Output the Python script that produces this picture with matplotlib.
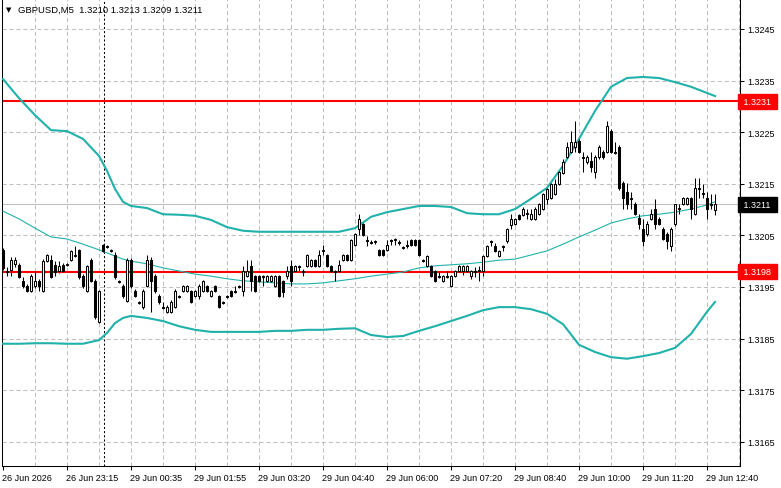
import matplotlib
matplotlib.use("Agg")
import matplotlib.pyplot as plt
import matplotlib.transforms as mtransforms
import numpy as np

plt.rcParams['font.family'] = ['Liberation Sans', 'DejaVu Sans']
plt.rcParams['lines.scale_dashes'] = False

symbol = "GBPUSD,M5"
last_ohlc = [1.3210, 1.3213, 1.3209, 1.3211]
levels = [1.3231, 1.3198]

# M5 candles, 26 Jun 21:55 -> 29 Jun 12:50
opens = [
    1.32022, 1.31981, 1.31983, 1.31995, 1.31993, 1.31962, 1.31952, 1.31942, 1.31952, 1.31962,
    1.31942, 1.32000, 1.32002, 1.31993, 1.31981, 1.31993, 1.31993, 1.32002, 1.32010, 1.32022,
    1.31971, 1.31942, 1.32002, 1.31962, 1.31882, 1.32031, 1.32029, 1.32022, 1.32012, 1.31962,
    1.31952, 1.31923, 1.32002, 1.31942, 1.31921, 1.31911, 1.31952, 1.32002, 1.31971, 1.31933,
    1.31911, 1.31902, 1.31902, 1.31911, 1.31933, 1.31942, 1.31942, 1.31942, 1.31933, 1.31933,
    1.31942, 1.31952, 1.31933, 1.31952, 1.31933, 1.31921, 1.31933, 1.31942, 1.31942, 1.31952,
    1.31942, 1.31971, 1.31991, 1.31971, 1.31971, 1.31971, 1.31962, 1.31962, 1.31952, 1.31971,
    1.31962, 1.31971, 1.31991, 1.31981, 1.31991, 1.31981, 1.31991, 1.31991, 1.32002, 1.31991,
    1.32022, 1.32012, 1.31991, 1.31981, 1.31981, 1.32002, 1.32012, 1.32002, 1.32031, 1.32062,
    1.32072, 1.32041, 1.32037, 1.32037, 1.32022, 1.32022, 1.32022, 1.32041, 1.32041, 1.32037,
    1.32028, 1.32031, 1.32041, 1.32041, 1.32041, 1.32002, 1.31991, 1.31991, 1.31981, 1.31971,
    1.31962, 1.31971, 1.31952, 1.31971, 1.31981, 1.31981, 1.31981, 1.31971, 1.31981, 1.31981,
    1.31981, 1.32010, 1.32039, 1.32029, 1.32010, 1.32029, 1.32039, 1.32070, 1.32072, 1.32090,
    1.32090, 1.32091, 1.32082, 1.32082, 1.32091, 1.32101, 1.32121, 1.32122, 1.32130, 1.32150,
    1.32171, 1.32202, 1.32212, 1.32221, 1.32233, 1.32202, 1.32192, 1.32194, 1.32173, 1.32202,
    1.32212, 1.32212, 1.32252, 1.32212, 1.32221, 1.32152, 1.32134, 1.32122, 1.32111, 1.32084,
    1.32062, 1.32053, 1.32082, 1.32101, 1.32082, 1.32062, 1.32053, 1.32029, 1.32072, 1.32101,
    1.32111, 1.32111, 1.32122, 1.32091, 1.32142, 1.32132, 1.32122, 1.32111, 1.32100,
]
highs = [
    1.32026, 1.31989, 1.32008, 1.32008, 1.31997, 1.31969, 1.31956, 1.31975, 1.31981, 1.31966,
    1.32004, 1.32014, 1.32012, 1.32000, 1.32000, 1.31997, 1.31997, 1.32022, 1.32029, 1.32024,
    1.31975, 1.31993, 1.32006, 1.31966, 1.31944, 1.32033, 1.32031, 1.32024, 1.32018, 1.31964,
    1.31956, 1.32006, 1.32006, 1.31946, 1.31923, 1.31946, 1.32012, 1.32008, 1.31975, 1.31936,
    1.31921, 1.31915, 1.31925, 1.31946, 1.31935, 1.31954, 1.31954, 1.31944, 1.31944, 1.31956,
    1.31964, 1.31954, 1.31944, 1.31954, 1.31935, 1.31923, 1.31935, 1.31944, 1.31952, 1.31954,
    1.31991, 1.32002, 1.32002, 1.31973, 1.31973, 1.31973, 1.31973, 1.31973, 1.31973, 1.31973,
    1.31964, 1.31991, 1.32002, 1.31993, 1.31993, 1.31985, 1.32014, 1.32004, 1.32004, 1.32022,
    1.32031, 1.32014, 1.31993, 1.31983, 1.32002, 1.32014, 1.32014, 1.32043, 1.32055, 1.32091,
    1.32074, 1.32049, 1.32041, 1.32041, 1.32024, 1.32024, 1.32041, 1.32043, 1.32045, 1.32041,
    1.32029, 1.32041, 1.32043, 1.32043, 1.32043, 1.32004, 1.32012, 1.31993, 1.31983, 1.31981,
    1.31973, 1.31981, 1.31973, 1.31983, 1.31993, 1.31993, 1.31993, 1.31983, 1.31989, 1.31991,
    1.32012, 1.32031, 1.32041, 1.32035, 1.32022, 1.32031, 1.32064, 1.32091, 1.32084, 1.32091,
    1.32105, 1.32101, 1.32101, 1.32105, 1.32113, 1.32132, 1.32142, 1.32152, 1.32159, 1.32175,
    1.32198, 1.32231, 1.32252, 1.32272, 1.32237, 1.32212, 1.32206, 1.32212, 1.32206, 1.32225,
    1.32216, 1.32272, 1.32256, 1.32231, 1.32225, 1.32155, 1.32152, 1.32134, 1.32115, 1.32091,
    1.32082, 1.32078, 1.32101, 1.32121, 1.32086, 1.32066, 1.32057, 1.32066, 1.32111, 1.32111,
    1.32124, 1.32124, 1.32124, 1.32161, 1.32161, 1.32150, 1.32134, 1.32130, 1.32130,
]
lows = [
    1.31983, 1.31971, 1.31971, 1.31989, 1.31967, 1.31948, 1.31940, 1.31940, 1.31948, 1.31942,
    1.31940, 1.31998, 1.31967, 1.31971, 1.31977, 1.31979, 1.31991, 1.32000, 1.32008, 1.31966,
    1.31948, 1.31940, 1.31960, 1.31888, 1.31880, 1.32018, 1.32026, 1.32018, 1.31966, 1.31958,
    1.31929, 1.31921, 1.31948, 1.31931, 1.31917, 1.31907, 1.31950, 1.31902, 1.31938, 1.31917,
    1.31907, 1.31900, 1.31900, 1.31909, 1.31929, 1.31940, 1.31940, 1.31919, 1.31931, 1.31927,
    1.31940, 1.31940, 1.31931, 1.31940, 1.31909, 1.31917, 1.31929, 1.31931, 1.31938, 1.31948,
    1.31933, 1.31969, 1.31942, 1.31940, 1.31960, 1.31952, 1.31960, 1.31960, 1.31950, 1.31931,
    1.31931, 1.31966, 1.31952, 1.31979, 1.31981, 1.31971, 1.31989, 1.31989, 1.31989, 1.31989,
    1.32012, 1.31989, 1.31979, 1.31962, 1.31979, 1.32000, 1.32000, 1.32000, 1.32029, 1.32051,
    1.32049, 1.32029, 1.32033, 1.32033, 1.32010, 1.32010, 1.32020, 1.32031, 1.32031, 1.32031,
    1.32024, 1.32026, 1.32029, 1.32029, 1.32010, 1.31998, 1.31989, 1.31969, 1.31960, 1.31967,
    1.31960, 1.31967, 1.31950, 1.31969, 1.31979, 1.31973, 1.31979, 1.31966, 1.31969, 1.31962,
    1.31971, 1.32008, 1.32029, 1.32018, 1.32008, 1.32020, 1.32035, 1.32062, 1.32070, 1.32080,
    1.32088, 1.32082, 1.32080, 1.32080, 1.32090, 1.32099, 1.32111, 1.32121, 1.32128, 1.32148,
    1.32169, 1.32200, 1.32210, 1.32212, 1.32210, 1.32173, 1.32188, 1.32173, 1.32161, 1.32198,
    1.32198, 1.32210, 1.32210, 1.32208, 1.32138, 1.32101, 1.32101, 1.32101, 1.32090, 1.32062,
    1.32029, 1.32049, 1.32080, 1.32062, 1.32070, 1.32041, 1.32024, 1.32020, 1.32068, 1.32091,
    1.32109, 1.32109, 1.32082, 1.32090, 1.32122, 1.32122, 1.32082, 1.32101, 1.32090,
]
closes = [
    1.31987, 1.31979, 1.32002, 1.32002, 1.31969, 1.31952, 1.31942, 1.31971, 1.31962, 1.31952,
    1.32000, 1.32012, 1.31969, 1.31979, 1.31991, 1.31981, 1.31995, 1.32020, 1.32012, 1.31969,
    1.31952, 1.31991, 1.31962, 1.31892, 1.31942, 1.32020, 1.32028, 1.32020, 1.31969, 1.31960,
    1.31933, 1.32002, 1.31952, 1.31933, 1.31919, 1.31942, 1.32002, 1.31962, 1.31942, 1.31921,
    1.31909, 1.31911, 1.31921, 1.31942, 1.31931, 1.31952, 1.31952, 1.31921, 1.31942, 1.31952,
    1.31962, 1.31942, 1.31942, 1.31942, 1.31911, 1.31919, 1.31931, 1.31933, 1.31940, 1.31950,
    1.31981, 1.31981, 1.31962, 1.31942, 1.31962, 1.31969, 1.31971, 1.31971, 1.31971, 1.31933,
    1.31940, 1.31981, 1.31962, 1.31991, 1.31989, 1.31979, 1.32012, 1.32002, 1.31991, 1.32012,
    1.32020, 1.31991, 1.31981, 1.31979, 1.31993, 1.32012, 1.32002, 1.32041, 1.32053, 1.32082,
    1.32051, 1.32039, 1.32035, 1.32039, 1.32012, 1.32012, 1.32031, 1.32039, 1.32043, 1.32035,
    1.32026, 1.32029, 1.32031, 1.32031, 1.32012, 1.32000, 1.32010, 1.31971, 1.31962, 1.31969,
    1.31971, 1.31969, 1.31971, 1.31981, 1.31991, 1.31991, 1.31991, 1.31981, 1.31979, 1.31983,
    1.32010, 1.32029, 1.32037, 1.32020, 1.32020, 1.32028, 1.32062, 1.32082, 1.32082, 1.32082,
    1.32101, 1.32093, 1.32091, 1.32101, 1.32111, 1.32130, 1.32140, 1.32150, 1.32150, 1.32173,
    1.32192, 1.32221, 1.32231, 1.32231, 1.32212, 1.32200, 1.32202, 1.32183, 1.32202, 1.32221,
    1.32202, 1.32262, 1.32212, 1.32210, 1.32142, 1.32122, 1.32111, 1.32121, 1.32091, 1.32072,
    1.32039, 1.32072, 1.32091, 1.32072, 1.32072, 1.32043, 1.32039, 1.32062, 1.32111, 1.32103,
    1.32122, 1.32122, 1.32101, 1.32142, 1.32140, 1.32130, 1.32101, 1.32109, 1.32110,
]

# Bollinger bands at these bar numbers
band_bars = [0, 4, 8, 12, 16, 20, 24, 26, 28, 30, 32, 36, 40, 44, 48, 52, 56, 60, 64, 68,
             72, 76, 80, 84, 88, 92, 96, 100, 104, 108, 112, 116, 120, 124, 128, 132, 136,
             140, 144, 148, 152, 156, 160, 164, 168, 172, 176, 178]
bb_upper = [1.32353, 1.32316, 1.32283, 1.32254, 1.32252, 1.32237, 1.32204, 1.32175, 1.32140,
            1.32115, 1.32107, 1.32103, 1.32091, 1.32090, 1.32088, 1.32080, 1.32066, 1.32059,
            1.32057, 1.32057, 1.32057, 1.32057, 1.32057, 1.32057, 1.32064, 1.32086, 1.32095,
            1.32101, 1.32107, 1.32107, 1.32105, 1.32093, 1.32091, 1.32091, 1.32101, 1.32121,
            1.32142, 1.32185, 1.32237, 1.32291, 1.32338, 1.32355, 1.32357, 1.32355, 1.32347,
            1.32338, 1.32326, 1.32320]
bb_middle = [1.32097, 1.32082, 1.32064, 1.32047, 1.32043, 1.32033, 1.32022, 1.32016, 1.32010,
             1.32004, 1.32000, 1.31995, 1.31987, 1.31981, 1.31975, 1.31971, 1.31966, 1.31962,
             1.31960, 1.31958, 1.31956, 1.31956, 1.31958, 1.31962, 1.31966, 1.31971, 1.31975,
             1.31979, 1.31987, 1.31991, 1.31993, 1.31995, 1.31998, 1.32002, 1.32004, 1.32012,
             1.32020, 1.32033, 1.32047, 1.32060, 1.32074, 1.32082, 1.32088, 1.32091, 1.32095,
             1.32101, 1.32109, 1.32115]
bb_lower = [1.31840, 1.31840, 1.31841, 1.31841, 1.31840, 1.31840, 1.31847, 1.31861, 1.31880,
            1.31890, 1.31894, 1.31890, 1.31884, 1.31874, 1.31867, 1.31863, 1.31863, 1.31863,
            1.31863, 1.31865, 1.31865, 1.31867, 1.31867, 1.31869, 1.31870, 1.31857, 1.31853,
            1.31855, 1.31865, 1.31874, 1.31884, 1.31894, 1.31905, 1.31911, 1.31911, 1.31907,
            1.31898, 1.31878, 1.31838, 1.31824, 1.31814, 1.31811, 1.31816, 1.31822, 1.31832,
            1.31859, 1.31902, 1.31921]

time_labels = ["26 Jun 2026", "26 Jun 23:15", "29 Jun 00:35", "29 Jun 01:55", "29 Jun 03:20",
               "29 Jun 04:40", "29 Jun 06:00", "29 Jun 07:20", "29 Jun 08:40", "29 Jun 10:00",
               "29 Jun 11:20", "29 Jun 12:40"]
label_bars = [0, 16, 32, 48, 64, 80, 96, 112, 128, 144, 160, 176]
day_start_bar = 25
price_ticks = [1.3165, 1.3175, 1.3185, 1.3195, 1.3205, 1.3215, 1.3225, 1.3235, 1.3245]

teal = "#20b2aa"
grid_gray = "#c0c0c0"

fig = plt.figure(figsize=(7.81, 4.89), dpi=100)
ax = fig.add_axes([2 / 781, 22 / 489, 738 / 781, 467 / 489])
ax.set_facecolor("white")

ax.set_xlim(-0.25, 184.25)
ax.set_ylim(1.316031, 1.325081)

# grid
for b in range(8, 185, 8):
    ax.axvline(b, color=grid_gray, lw=0.75, ls=(0, (3, 2)), zorder=0)
for p in price_ticks:
    ax.axhline(p, color=grid_gray, lw=0.75, ls=(0, (3, 2)), zorder=0)

# day separator
ax.axvline(day_start_bar + 0.2, color="black", lw=0.75, ls=(0, (1.5, 1.5)), zorder=1)

# current price line
ax.axhline(last_ohlc[3], color=grid_gray, lw=0.75, zorder=1)

# support / resistance
for lv in levels:
    ax.axhline(lv, color="#ff0000", lw=1.5, zorder=2)

# bollinger bands
ax.plot(band_bars, bb_upper, color=teal, lw=1.5, zorder=3)
ax.plot(band_bars, bb_lower, color=teal, lw=1.5, zorder=3)
ax.plot(band_bars, bb_middle, color=teal, lw=0.8, zorder=3)

# candles
o = np.array(opens)
c = np.array(closes)
h = np.array(highs)
l = np.array(lows)
x = np.arange(len(o))
ax.vlines(x, l, h, color="black", lw=0.75, zorder=4)
up = c >= o
body_lo = np.minimum(o, c)
body_h = np.abs(c - o)
ax.bar(x[up], body_h[up], bottom=body_lo[up], width=0.6, color="white",
       edgecolor="black", linewidth=0.75, zorder=5)
ax.bar(x[~up], body_h[~up], bottom=body_lo[~up], width=0.6, color="black",
       edgecolor="black", linewidth=0.75, zorder=5)

# axes frame
ax.spines["top"].set_visible(False)
for side in ["left", "right", "bottom"]:
    ax.spines[side].set_linewidth(0.75)
    ax.spines[side].set_color("black")

ax.yaxis.tick_right()
ax.set_yticks(price_ticks)
ax.set_yticklabels([f"{p:.4f}" for p in price_ticks])
ax.tick_params(axis="y", length=3, width=0.75, pad=2, labelsize=6.5)
ax.set_xticks(label_bars)
ax.set_xticklabels(time_labels, ha="left")
ax.tick_params(axis="x", length=3, width=0.75, pad=2, labelsize=6.5)
for lbl in ax.get_xticklabels():
    lbl.set_transform(lbl.get_transform() + mtransforms.ScaledTranslation(-1 / 100, 0, fig.dpi_scale_trans))

# price boxes on the right scale
ytrans = mtransforms.blended_transform_factory(ax.transAxes, ax.transData)
for lv in levels:
    ax.text(1.002, lv, f" {lv:.4f} ", transform=ytrans, ha="left", va="center",
            fontsize=6.5, color="white",
            bbox=dict(boxstyle="square,pad=0.35", fc="#ff0000", ec="#ff0000"))
ax.text(1.002, last_ohlc[3], f" {last_ohlc[3]:.4f} ", transform=ytrans, ha="left", va="center",
        fontsize=6.5, color="white",
        bbox=dict(boxstyle="square,pad=0.35", fc="black", ec="black"))

# header
fig.text(6 / 781, 1 - 10 / 489, "\u25bc", fontsize=5, va="center", ha="left",
         family=["DejaVu Sans"])
header = symbol + "  " + " ".join(f"{v:.4f}" for v in last_ohlc)
fig.text(18 / 781, 1 - 10 / 489, header, fontsize=6.8, va="center", ha="left")

fig.savefig("out.png", dpi=100, facecolor="white")
